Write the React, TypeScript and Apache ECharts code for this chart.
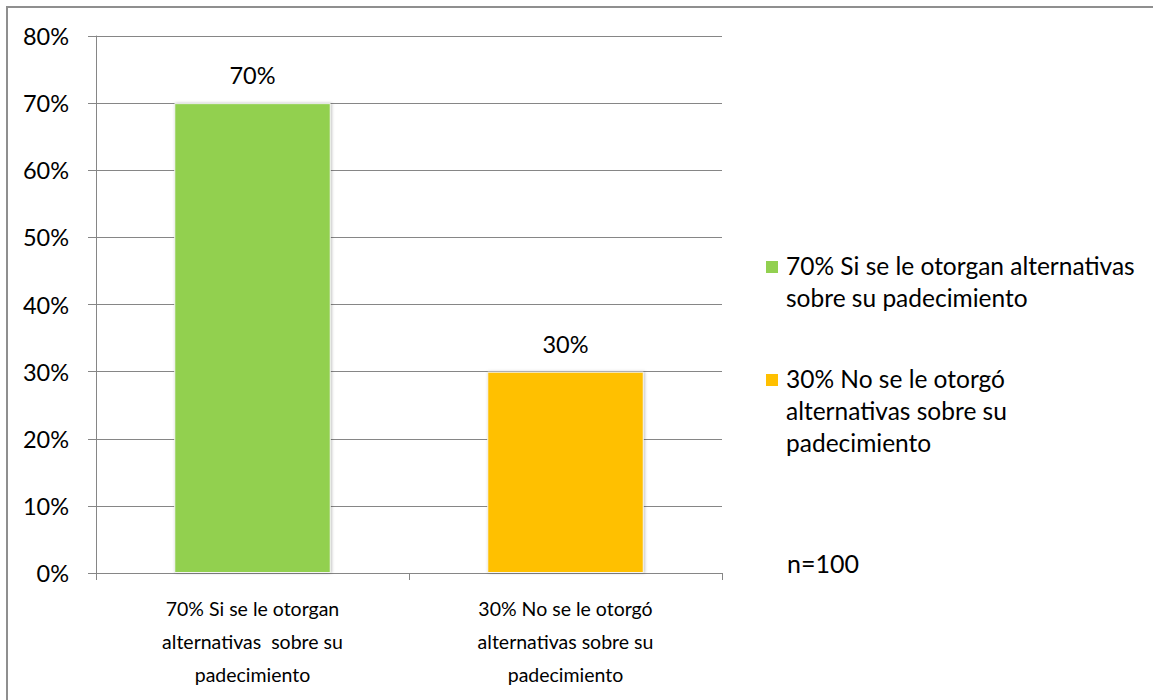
import React, { useEffect, useRef } from "react";
import * as echarts from "echarts";

const categories = [
  "70% Si se le otorgan\nalternativas  sobre su\npadecimiento",
  "30% No se le otorgó\nalternativas sobre su\npadecimiento",
];
const values = [0.7, 0.3];
const barColors = ["#92D050", "#FFC000"];
const legendLabels = [
  "70% Si se le otorgan alternativas\nsobre su padecimiento",
  "30% No se le otorgó\nalternativas sobre su\npadecimiento",
];
const yTicks = { min: 0, max: 0.8, interval: 0.1 };
const noteText = "n=100";

const FONT = "Lato, 'Liberation Sans', sans-serif";
const GRAY = "#868686";

export default function App() {
  const ref = useRef<HTMLDivElement>(null);

  useEffect(() => {
    if (!ref.current) return;
    const chart = echarts.init(ref.current, undefined, { renderer: "svg" });

    const legendGraphics: any[] = [];
    const legendTops = [261, 374];
    legendLabels.forEach((lbl, i) => {
      legendGraphics.push({
        type: "rect",
        left: 766,
        top: legendTops[i],
        shape: { width: 12, height: 12 },
        style: { fill: barColors[i] },
      });
      legendGraphics.push({
        type: "text",
        left: 786,
        top: legendTops[i] - 12,
        style: {
          text: lbl,
          fill: "#000",
          font: `24.5px ${FONT}`,
          lineHeight: 32,
        },
      });
    });

    chart.setOption({
      animation: false,
      backgroundColor: "#ffffff",
      textStyle: { fontFamily: FONT },
      grid: { left: 96, top: 36, right: 431, bottom: 127, containLabel: false },
      xAxis: {
        type: "category",
        data: categories,
        axisLine: { show: true, lineStyle: { color: GRAY, width: 1 } },
        axisTick: { show: true, length: 7, lineStyle: { color: GRAY } },
        axisLabel: {
          color: "#000",
          fontSize: 19.5,
          lineHeight: 33,
          margin: 19,
          fontFamily: FONT,
          interval: 0,
        },
        splitLine: { show: false },
      },
      yAxis: {
        type: "value",
        min: yTicks.min,
        max: yTicks.max,
        interval: yTicks.interval,
        axisLine: { show: true, lineStyle: { color: GRAY, width: 1 } },
        axisTick: { show: true, length: 8, lineStyle: { color: GRAY } },
        axisLabel: {
          color: "#000",
          fontSize: 23.5,
          margin: 27,
          fontFamily: FONT,
          formatter: (v: number) => `${Math.round(v * 100)}%`,
        },
        splitLine: { show: true, lineStyle: { color: GRAY, width: 1 } },
      },
      series: [
        {
          type: "bar",
          barWidth: "50%",
          data: values.map((v, i) => ({
            value: v,
            itemStyle: { color: barColors[i] },
          })),
          itemStyle: {
            borderColor: "#f4f4f4",
            borderWidth: 1,
            shadowBlur: 3,
            shadowColor: "rgba(0,0,0,0.25)",
            shadowOffsetX: 1,
            shadowOffsetY: 0,
          },
          label: {
            show: true,
            position: "top",
            distance: 16,
            color: "#000",
            fontSize: 23.5,
            fontFamily: FONT,
            formatter: (p: any) => `${Math.round(p.value * 100)}%`,
          },
        },
      ],
      graphic: [
        {
          type: "line",
          shape: { x1: 6, y1: 7, x2: 1153, y2: 7 },
          style: { stroke: "#8f8f8f", lineWidth: 2 },
        },
        {
          type: "line",
          shape: { x1: 7, y1: 6, x2: 7, y2: 700 },
          style: { stroke: "#8f8f8f", lineWidth: 2 },
        },
        ...legendGraphics,
        {
          type: "text",
          left: 787,
          top: 550,
          style: {
            text: noteText,
            fill: "#000",
            font: `25px ${FONT}`,
          },
        },
      ],
    });

    return () => chart.dispose();
  }, []);

  return (
    <div
      ref={ref}
      style={{ position: "absolute", left: 0, top: 0, width: 1153, height: 700 }}
    />
  );
}
